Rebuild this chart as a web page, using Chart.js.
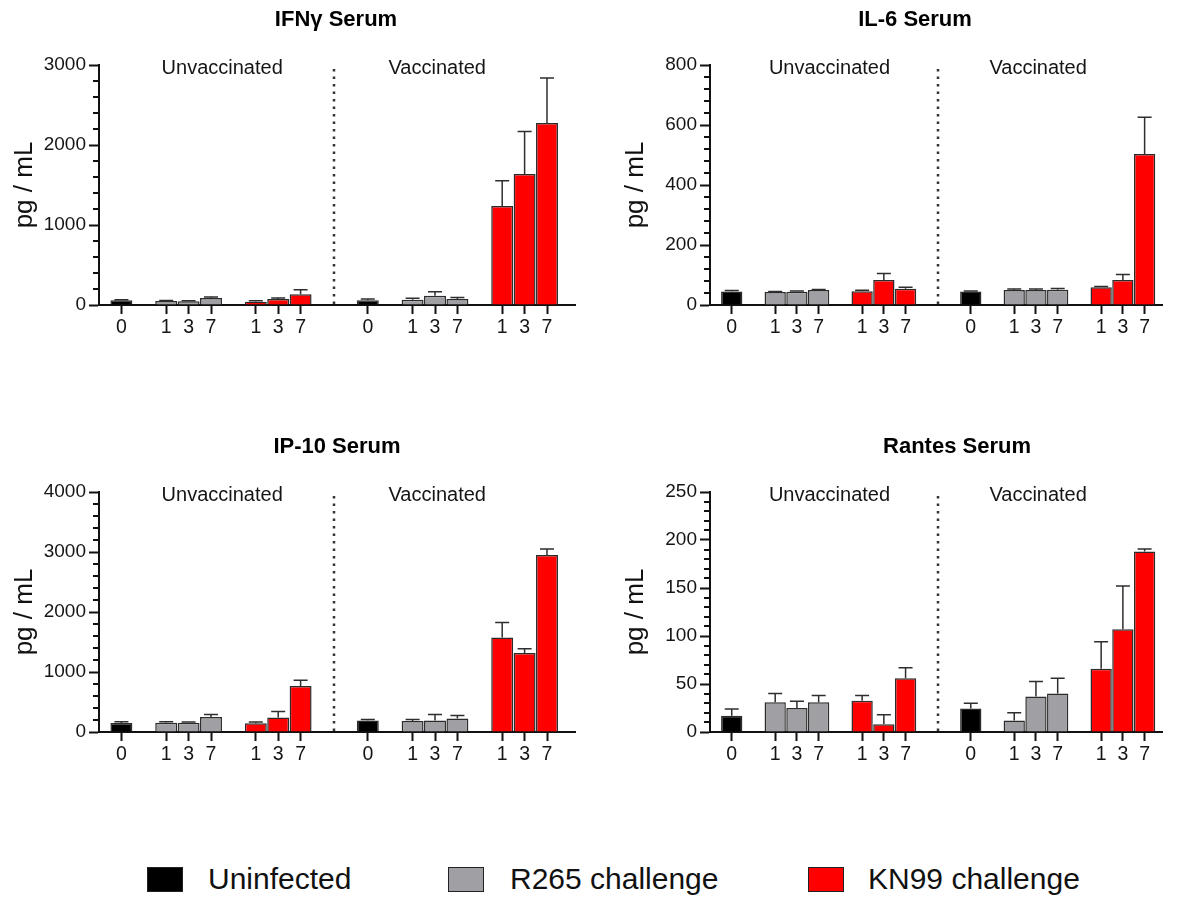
<!DOCTYPE html>
<html>
<head>
<meta charset="utf-8">
<script src="https://cdn.jsdelivr.net/npm/chart.js@4.4.1/dist/chart.umd.min.js"></script>
<style>
  html,body{margin:0;padding:0;background:#fff;}
  body{width:1188px;height:898px;position:relative;overflow:hidden;font-family:'Liberation Sans',Arial,Helvetica,sans-serif;}
  .panel{position:absolute;width:594px;height:360px;}
  .sw{position:absolute;width:36px;height:25px;box-sizing:border-box;border:1.5px solid #222;}
  .lt{position:absolute;font-size:30px;line-height:30px;color:#111;white-space:nowrap;}
</style>
</head>
<body>
<div class="panel" style="left:0;top:0"><canvas id="c1" width="594" height="360"></canvas></div>
<div class="panel" style="left:594px;top:0"><canvas id="c2" width="594" height="360"></canvas></div>
<div class="panel" style="left:0;top:427px"><canvas id="c3" width="594" height="360"></canvas></div>
<div class="panel" style="left:594px;top:427px"><canvas id="c4" width="594" height="360"></canvas></div>
<div id="legend"></div>
<script>
// ---------- data ----------
const xPositions = [1, 3, 4, 5, 7, 8, 9, 12, 14, 15, 16, 18, 19, 20];
const tickLabels = ['0', '1', '3', '7', '1', '3', '7', '0', '1', '3', '7', '1', '3', '7'];
const barGroups  = ['U', 'R', 'R', 'R', 'K', 'K', 'K', 'U', 'R', 'R', 'R', 'K', 'K', 'K'];
const seriesKeys  = ['U', 'R', 'K'];
const seriesNames = ['Uninfected', 'R265 challenge', 'KN99 challenge'];
const sectionLabels = ['Unvaccinated', 'Vaccinated'];
const sectionCenters = [5.5, 15.1];
const dividerAt = 10.5;

const ifngMean   = [58, 50, 46, 87, 41, 75, 133, 58, 66, 116, 75, 1237, 1639, 2274];
const ifngErr    = [8, 5, 6, 13, 13, 12, 58, 17, 17, 50, 20, 315, 531, 564];
const il6Mean    = [45, 43, 44, 50, 46, 83, 54, 45, 50, 50, 51, 59, 83, 503];
const il6Err     = [3, 2, 3, 2, 3, 22, 5, 2, 3, 3, 4, 3, 19, 123];
const ip10Mean   = [149, 155, 155, 249, 144, 243, 768, 193, 182, 193, 226, 1574, 1315, 2950];
const ip10Err    = [22, 16, 11, 44, 22, 100, 94, 17, 28, 100, 50, 249, 72, 100];
const rantesMean = [17, 31, 25, 31, 32.5, 8, 56, 24.5, 12, 37, 40, 66, 107, 188];
const rantesErr  = [7, 9, 7, 7, 5.5, 10, 11, 5.5, 8, 15.5, 16, 28, 45, 2.5];

const yTitle = 'pg / mL';

// ---------- styles ----------
const colors = {U: '#000000', R: '#a0a0a4', K: '#ff0000'};
const FONT = "'Liberation Sans', Arial, Helvetica, sans-serif";
const INK = '#151515';
Chart.defaults.font.family = FONT;
Chart.defaults.color = INK;

const panels = [
  {id: 'c1', title: 'IFNγ Serum',   mean: ifngMean,   err: ifngErr,   max: 3000, major: 1000, minor: 200,
   areaLeft: 99,  areaRight: 575, xMax: 21.25, titleX: 336, yTitlePad: 9},
  {id: 'c2', title: 'IL-6 Serum',   mean: il6Mean,    err: il6Err,    max: 800,  major: 200,  minor: 40,
   areaLeft: 116, areaRight: 568, xMax: 20.8,  titleX: 321, yTitlePad: 26},
  {id: 'c3', title: 'IP-10 Serum',  mean: ip10Mean,   err: ip10Err,   max: 4000, major: 1000, minor: 200,
   areaLeft: 99,  areaRight: 575, xMax: 21.25, titleX: 337, yTitlePad: 9},
  {id: 'c4', title: 'Rantes Serum', mean: rantesMean, err: rantesErr, max: 250,  major: 50,   minor: 10,
   areaLeft: 116, areaRight: 568, xMax: 20.8,  titleX: 363, yTitlePad: 26}
];

const decor = {
  id: 'decor',
  afterDatasetsDraw(chart, args, opts) {
    const p = opts.panel;
    const {ctx, chartArea} = chart;
    const xs = chart.scales.x, ys = chart.scales.y;
    const meta = chart.getDatasetMeta(0);
    ctx.save();
    // error bars (upper only)
    ctx.strokeStyle = '#2e2e2e';
    ctx.lineWidth = 1.5;
    meta.data.forEach((bar, i) => {
      const yb = ys.getPixelForValue(p.mean[i]);
      const yt = ys.getPixelForValue(p.mean[i] + p.err[i]);
      ctx.beginPath();
      ctx.moveTo(bar.x, yb); ctx.lineTo(bar.x, yt);
      ctx.moveTo(bar.x - 7, yt); ctx.lineTo(bar.x + 7, yt);
      ctx.stroke();
    });
    // dotted divider
    const dx = Math.round(xs.getPixelForValue(dividerAt));
    ctx.strokeStyle = '#333';
    ctx.lineWidth = 2.5;
    ctx.setLineDash([2.5, 5]);
    ctx.beginPath();
    ctx.moveTo(dx, chartArea.top + 4); ctx.lineTo(dx, chartArea.bottom);
    ctx.stroke();
    ctx.setLineDash([]);
    // minor y ticks
    ctx.strokeStyle = '#111';
    ctx.lineWidth = 2;
    for (let v = p.minor; v < p.max; v += p.minor) {
      if (Math.abs(v / p.major - Math.round(v / p.major)) < 1e-6) continue;
      const y = Math.round(ys.getPixelForValue(v));
      ctx.beginPath(); ctx.moveTo(chartArea.left - 6, y); ctx.lineTo(chartArea.left, y); ctx.stroke();
    }
    // section labels
    ctx.fillStyle = INK;
    ctx.font = '20px ' + FONT;
    ctx.textAlign = 'center';
    ctx.textBaseline = 'middle';
    sectionLabels.forEach((t, i) => ctx.fillText(t, xs.getPixelForValue(sectionCenters[i]), chartArea.top + 3));
    // panel title
    ctx.font = 'bold 22px ' + FONT;
    ctx.fillStyle = '#000';
    ctx.fillText(p.title, p.titleX, 20);
    ctx.restore();
  }
};

panels.forEach(p => {
  const canvas = document.getElementById(p.id);
  new Chart(canvas, {
    type: 'bar',
    data: {
      datasets: [{
        data: xPositions.map((x, i) => ({x: x, y: p.mean[i]})),
        backgroundColor: barGroups.map(g => colors[g]),
        borderColor: '#2b2b2b',
        borderWidth: 1.5,
        barPercentage: 0.98,
        categoryPercentage: 1
      }]
    },
    options: {
      responsive: false,
      animation: false,
      devicePixelRatio: 1,
      layout: {padding: {left: 0, top: 65, right: 594 - p.areaRight, bottom: 0}},
      plugins: {legend: {display: false}, tooltip: {enabled: false}, decor: {panel: p}},
      scales: {
        x: {
          type: 'linear', min: 0, max: p.xMax, offset: false,
          afterBuildTicks(s) { s.ticks = xPositions.map(v => ({value: v})); },
          ticks: {autoSkip: false, maxRotation: 0, minRotation: 0, padding: 2,
                  font: {size: 19.5}, color: INK, callback: (v, i) => tickLabels[i]},
          grid: {display: true, offset: false, drawOnChartArea: false, drawTicks: true,
                 tickLength: 9, tickWidth: 2, color: '#111'},
          border: {display: true, width: 2, color: '#111'},
          afterFit(s) { s.height = 55; }
        },
        y: {
          min: 0, max: p.max,
          ticks: {stepSize: p.major, padding: 3, font: {size: 19}, color: INK,
                  callback: v => String(v)},
          grid: {display: true, drawOnChartArea: false, drawTicks: true,
                 tickLength: 10, tickWidth: 2, color: '#111'},
          border: {display: true, width: 2, color: '#111'},
          title: {display: true, text: yTitle, font: {size: 26}, color: '#111',
                  padding: {top: p.yTitlePad, bottom: 0}},
          afterFit(s) { s.width = p.areaLeft; }
        }
      }
    },
    plugins: [decor]
  });
});

// ---------- legend ----------
const legend = document.getElementById('legend');
const swLeft = [147, 448, 808];
const txtLeft = [208, 510, 868];
seriesKeys.forEach((k, i) => {
  const sw = document.createElement('div');
  sw.className = 'sw';
  sw.style.left = swLeft[i] + 'px';
  sw.style.top = '867px';
  sw.style.background = colors[k];
  legend.appendChild(sw);
  const t = document.createElement('div');
  t.className = 'lt';
  t.style.left = txtLeft[i] + 'px';
  t.style.top = '864px';
  t.textContent = seriesNames[i];
  legend.appendChild(t);
});
</script>
</body>
</html>
